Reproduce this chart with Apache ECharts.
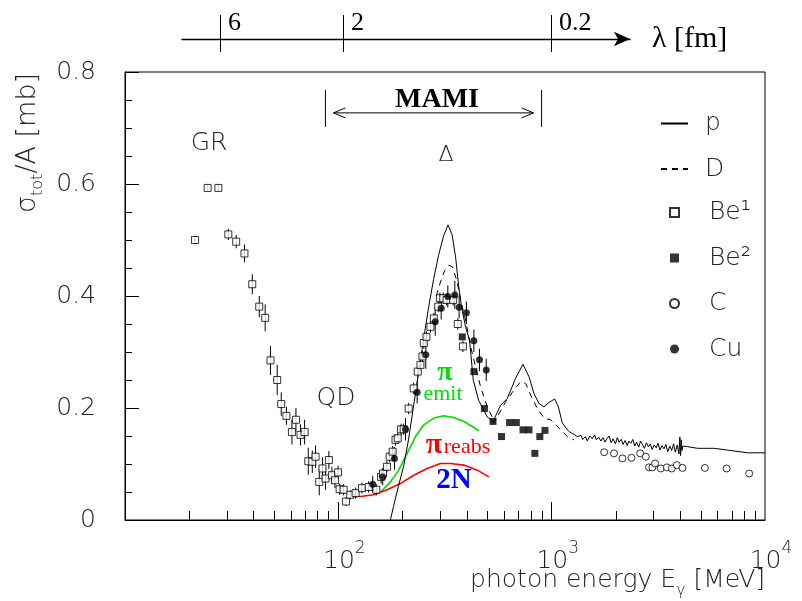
<!DOCTYPE html>
<html><head><meta charset="utf-8">
<script src="https://cdn.jsdelivr.net/npm/echarts@6/dist/echarts.min.js"></script>
<style>html,body{margin:0;padding:0;background:#fff}#c{width:802px;height:601px}</style>
</head><body><div id="c"></div>
<script>
// ---------------- data ----------------
// Be (1): open squares  [E MeV, sigma/A mb, error]
const be1 = [
  [21.3,0.500,0.006],[24.4,0.593,0.005],[27.4,0.593,0.006],[30.5,0.510,0.010],[33.2,0.497,0.012],
  [36.3,0.476,0.016],[39.5,0.421,0.018],[42.6,0.381,0.019],[45.4,0.361,0.024],[48.1,0.285,0.026],
  [51.7,0.250,0.027],[54.0,0.207,0.021],[57.1,0.186,0.016],[60.6,0.157,0.022],[63.3,0.179,0.021],
  [66.5,0.152,0.019],[69.5,0.157,0.022],[72.3,0.105,0.024],[75.5,0.104,0.020],[78.2,0.113,0.020],
  [81.4,0.068,0.024],[84.3,0.092,0.020],[87.1,0.074,0.020],[90.3,0.107,0.016],[93.3,0.080,0.015],
  [96.4,0.071,0.014],[99.7,0.085,0.012],[101.4,0.055,0.010],[105.9,0.054,0.010],[108.7,0.033,0.008],
  [113.8,0.045,0.008],[120.5,0.048,0.010],[129,0.057,0.010],[138.7,0.059,0.010],[150.7,0.054,0.010],
  [158.6,0.077,0.012],[161.9,0.083,0.010],[169,0.095,0.010],[174,0.113,0.010],[179.7,0.122,0.010],
  [185.3,0.143,0.010],[189.8,0.146,0.010],[196.8,0.162,0.010],[202.4,0.162,0.010],[213.6,0.199,0.010],
  [225.5,0.235,0.010],[235.6,0.265,0.010],[242.6,0.277,0.010],[247.9,0.292,0.010],[251.6,0.316,0.010],
  [258.8,0.327,0.010],[270.3,0.345,0.010],[280.4,0.360,0.010],[294,0.381,0.010],[299.3,0.396,0.010],
  [310.4,0.396,0.010],[321.6,0.393,0.010],[345.5,0.393,0.010],[362.9,0.350,0.010],[383.6,0.310,0.010]
];
// Be (2): filled squares [E, sigma]
const be2 = [
  [381,0.327],[432,0.265],[484,0.199],[531,0.176],[582,0.149],[635,0.174],
  [683,0.174],[734,0.161],[783,0.161],[834,0.119],[880,0.149],[930,0.160]
];
// C: open circles [E, sigma]
const carbon = [
  [1762,0.121],[1961,0.119],[2146,0.110],[2366,0.111],[2600,0.119],[2763,0.113],[2860,0.094],
  [2965,0.094],[3053,0.101],[3248,0.092],[3467,0.094],[3657,0.092],[3862,0.098],[4105,0.093],
  [5225,0.093],[6607,0.092],[8433,0.083]
];
// Cu: filled circles [E, sigma, error]
const copper = [
  [144.9,0.064,0.015],[161.4,0.077,0.015],[183.3,0.110,0.020],[206.5,0.162,0.020],[234.2,0.228,0.020],
  [257,0.295,0.025],[284.6,0.354,0.025],[303.5,0.378,0.020],[326,0.399,0.020],[351.6,0.402,0.025],
  [368.4,0.380,0.020],[398.6,0.370,0.020],[431.8,0.320,0.020],[458.8,0.286,0.020],[493.5,0.268,0.020]
];
// proton (solid line)
const proton = [
  [175.4,0.000],[181.3,0.024],[191.3,0.060],[202.0,0.095],[213.2,0.143],[225.0,0.202],[237.5,0.262],
  [250.6,0.321],[264.5,0.378],[279.3,0.429],[294.8,0.472],[311.2,0.507],[326.7,0.527],[341.2,0.510],
  [354.4,0.470],[366.0,0.420],[378.1,0.380],[394.8,0.345],[412.1,0.321],[429.0,0.250],[454.3,0.214],
  [498.9,0.184],[531.3,0.176],[576.4,0.205],[619.4,0.217],[677.6,0.253],[733.3,0.278],[782.4,0.256],
  [826.0,0.226],[871.9,0.208],[920.1,0.202],[971.2,0.210],[1033,0.216],[1075,0.202],[1122,0.173],
  [1206,0.158],[1320,0.149],
  [1330,0.146],[1370,0.151],[1400,0.144],[1440,0.149],[1470,0.141],[1510,0.150],[1550,0.145],
  [1590,0.152],[1620,0.143],[1660,0.148],[1700,0.141],[1740,0.147],[1780,0.139],[1820,0.146],
  [1860,0.150],[1900,0.138],[1940,0.145],[1990,0.136],[2030,0.147],[2070,0.139],[2120,0.144],
  [2160,0.135],[2210,0.142],[2260,0.133],[2300,0.141],[2350,0.137],[2400,0.144],[2450,0.132],
  [2500,0.139],[2560,0.130],[2610,0.141],[2670,0.134],[2720,0.128],[2780,0.138],[2840,0.131],
  [2900,0.136],[2960,0.126],[3020,0.134],[3090,0.129],[3150,0.137],[3220,0.125],[3290,0.133],
  [3360,0.127],[3430,0.135],[3500,0.122],[3580,0.132],[3650,0.124],[3730,0.136],[3800,0.121],
  [3880,0.134],[3950,0.118],[3990,0.148],[4020,0.115],[4050,0.143],[4080,0.124],[4120,0.132],
  [4335,0.131],[4831,0.128],[5780,0.128],[6918,0.124],[8293,0.120],[10000,0.120]
];
// deuteron (dashed line)
const deuteron = [
  [287.7,0.400],[301.2,0.425],[314.6,0.445],[329.5,0.455],[342.9,0.452],[360.8,0.425],[374.0,0.393],
  [394.8,0.357],[416.7,0.310],[439.8,0.274],[464.2,0.238],[498.9,0.202],[526.5,0.184],[536.0,0.173],
  [608.2,0.211],[665.3,0.232],[715.1,0.247],[755.0,0.244],[797.0,0.223],[856.8,0.199],[920.1,0.182],
  [989.2,0.179],[1063,0.167],[1185,0.149],[1273,0.143]
];
// model components
const piEmit = [
  [158.7,0.051],[175.4,0.068],[191.9,0.089],[210.1,0.119],[229.9,0.149],[251.5,0.170],
  [280.2,0.182],[312.2,0.186],[347.8,0.183],[387.6,0.176],[424.3,0.167],[455.8,0.159]
];
const piReabs2N = [
  [116.0,0.042],[126.9,0.042],[146.4,0.045],[169.3,0.054],[195.5,0.065],[225.7,0.080],
  [260.9,0.092],[301.2,0.101],[335.7,0.101],[387.6,0.098],[448.0,0.089],[507.7,0.077]
];
// axis ticks
const xMajorTicks = [100, 1000];
const xLabelTicks = [100, 1000, 10000];
const xMinorTicks = [20,30,40,50,60,70,80,90,200,300,400,500,600,700,800,900,2000,3000,4000,5000,6000,7000,8000,9000];
const lambdaTickE = [27.9, 105.6, 1000];
const lambdaTickLabels = ['6', '2', '0.2'];
// MAMI energy range bracket
const mamiRange = [87, 897];
const mamiBarY = [0.702, 0.768];
const mamiArrowY = 0.727;

// ---------------- chart ----------------
const SANS = '"DejaVu Sans", "Liberation Sans", sans-serif';
const SERIF = '"Liberation Serif", "DejaVu Serif", serif';
const TXT = '#222';
const FW = 200;

function errorBar(params, api) {
  const x = api.value(0), y = api.value(1), e = api.value(2);
  const a = api.coord([x, y + e]), b = api.coord([x, y - e]);
  return {type: 'line', shape: {x1: a[0], y1: a[1], x2: b[0], y2: b[1]},
          style: {stroke: '#000', lineWidth: 1}};
}
function mamiRender(params, api) {
  const l = api.coord([mamiRange[0], mamiBarY[0]]);
  const lt = api.coord([mamiRange[0], mamiBarY[1]]);
  const r = api.coord([mamiRange[1], mamiBarY[0]]);
  const rt = api.coord([mamiRange[1], mamiBarY[1]]);
  const ay = api.coord([mamiRange[0], mamiArrowY])[1];
  const x1 = l[0] + 8, x2 = r[0] - 8;
  const st = {stroke: '#000', lineWidth: 1, fill: null};
  return {type: 'group', children: [
    {type: 'line', shape: {x1: l[0], y1: l[1], x2: lt[0], y2: lt[1]}, style: st},
    {type: 'line', shape: {x1: r[0], y1: r[1], x2: rt[0], y2: rt[1]}, style: st},
    {type: 'line', shape: {x1: x1, y1: ay, x2: x2, y2: ay}, style: st},
    {type: 'polyline', shape: {points: [[x1 + 12, ay - 5], [x1, ay], [x1 + 12, ay + 5]]}, style: st},
    {type: 'polyline', shape: {points: [[x2 - 12, ay - 5], [x2, ay], [x2 - 12, ay + 5]]}, style: st}
  ]};
}
function supLabel(v) {
  return '{b|10}{s|' + Math.round(Math.log10(v)) + '}';
}
function lambdaLabel(v) {
  for (let i = 0; i < lambdaTickE.length; i++) {
    if (Math.abs(Math.log10(v) - Math.log10(lambdaTickE[i])) < 0.01) return lambdaTickLabels[i];
  }
  return '';
}

const chart = echarts.init(document.getElementById('c'));
chart.setOption({
  animation: false,
  backgroundColor: '#fff',
  grid: [
    {left: 125, right: 37, top: 72, bottom: 81, show: true, borderColor: '#000', borderWidth: 1,
     containLabel: false, outerBoundsMode: 'none'},
    {left: 182, right: 172, top: 15, height: 24, containLabel: false, outerBoundsMode: 'none'}
  ],
  xAxis: [
    {gridIndex: 0, type: 'log', logBase: 10, min: 10, max: 10000, position: 'bottom',
     axisLine: {show: true, lineStyle: {color: '#000', width: 1}},
     axisTick: {show: true, inside: true, length: 18, customValues: xMajorTicks, lineStyle: {color: '#000'}},
     axisLabel: {customValues: xLabelTicks, formatter: supLabel, margin: 29, padding: [0, 0, 0, 12],
       rich: {
         b: {fontFamily: SANS, fontSize: 25, fontWeight: FW, color: TXT, verticalAlign: 'bottom', lineHeight: 25},
         s: {fontFamily: SANS, fontSize: 17, fontWeight: FW, color: TXT, verticalAlign: 'bottom', lineHeight: 17, padding: [0, 0, 17, 0]}
       }},
     splitLine: {show: false}, minorTick: {show: false}
    },
    {gridIndex: 0, type: 'log', logBase: 10, min: 10, max: 10000, position: 'bottom',
     axisLine: {show: false},
     axisTick: {show: true, inside: true, length: 9, customValues: xMinorTicks, lineStyle: {color: '#000'}},
     axisLabel: {show: false}, splitLine: {show: false}
    },
    {gridIndex: 1, type: 'log', logBase: 10, min: 18.52, max: 2349, position: 'bottom',
     axisLine: {show: true, lineStyle: {color: '#000', width: 1.3}, symbol: ['none', 'arrow'], symbolSize: [11, 16]},
     axisTick: {show: true, inside: false, length: 13, customValues: lambdaTickE, lineStyle: {color: '#000'}},
     axisLabel: {customValues: lambdaTickE, inside: true, formatter: lambdaLabel, align: 'left',
       padding: [0, 0, 0, 8], margin: 3, fontFamily: SERIF, fontSize: 26, color: '#000'},
     splitLine: {show: false},
     name: 'λ [fm]', nameLocation: 'end', nameGap: 22,
     nameTextStyle: {fontFamily: SERIF, fontSize: 30, color: '#000', verticalAlign: 'middle'}
    }
  ],
  yAxis: [
    {gridIndex: 0, type: 'value', min: 0, max: 0.8, interval: 0.2,
     axisLine: {show: true, lineStyle: {color: '#000'}},
     axisTick: {show: true, inside: true, length: 14, lineStyle: {color: '#000'}},
     minorTick: {show: true, splitNumber: 4, length: 7, lineStyle: {color: '#000'}},
     axisLabel: {margin: 29, fontFamily: SANS, fontSize: 25, fontWeight: FW, color: TXT},
     splitLine: {show: false}
    },
    {gridIndex: 1, type: 'value', min: 0, max: 1, show: false}
  ],
  legend: [
    {data: [{name: 'p', itemStyle: {opacity: 0}}, {name: 'D', itemStyle: {opacity: 0}}],
     orient: 'vertical', left: 655, top: 106, itemWidth: 27, itemHeight: 12, itemGap: 20.5,
     selectedMode: false,
     textStyle: {fontFamily: SANS, fontSize: 25, fontWeight: FW, color: TXT, lineHeight: 24, padding: [0, 0, 0, 12]}},
    {data: ['Be¹', 'Be²', 'C', 'Cu'], orient: 'vertical', left: 664, top: 195, itemWidth: 9, itemHeight: 9, itemGap: 20.5,
     selectedMode: false,
     textStyle: {fontFamily: SANS, fontSize: 25, fontWeight: FW, color: TXT, lineHeight: 24, padding: [0, 0, 0, 25]}}
  ],
  series: [
    {name: 'p', type: 'line', xAxisIndex: 0, yAxisIndex: 0, data: proton, symbol: 'none', showSymbol: false,
     lineStyle: {color: '#000', width: 1}, itemStyle: {color: '#000'}, z: 3},
    {name: 'D', type: 'line', xAxisIndex: 0, yAxisIndex: 0, data: deuteron, symbol: 'none', showSymbol: false,
     lineStyle: {color: '#000', width: 1, type: [6, 5]}, itemStyle: {color: '#000'}, z: 3},
    {name: 'πemit', type: 'line', data: piEmit, symbol: 'none', lineStyle: {color: '#00dd00', width: 1.6}, z: 2},
    {name: 'πreabs2N', type: 'line', data: piReabs2N, symbol: 'none', lineStyle: {color: '#ff0000', width: 1.6}, z: 2},
    {name: 'errBe1', type: 'custom', data: be1, renderItem: errorBar, encode: {x: 0, y: 1}, z: 4, silent: true},
    {name: 'errCu', type: 'custom', data: copper, renderItem: errorBar, encode: {x: 0, y: 1}, z: 4, silent: true},
    {name: 'Be¹', type: 'scatter', data: be1, symbol: 'rect', symbolSize: 7,
     itemStyle: {color: '#fff', borderColor: '#000', borderWidth: 1}, z: 5},
    {name: 'Be²', type: 'scatter', data: be2, symbol: 'rect', symbolSize: 7,
     itemStyle: {color: '#000', borderColor: '#000', borderWidth: 0}, z: 5},
    {name: 'C', type: 'scatter', data: carbon, symbol: 'circle', symbolSize: 7,
     itemStyle: {color: '#fff', borderColor: '#000', borderWidth: 1}, z: 5},
    {name: 'Cu', type: 'scatter', data: copper, symbol: 'circle', symbolSize: 7,
     itemStyle: {color: '#000', borderColor: '#000', borderWidth: 0}, z: 5},
    {name: 'MAMI', type: 'custom', data: [[mamiRange[0], mamiArrowY]], renderItem: mamiRender,
     encode: {x: 0, y: 1}, clip: false, silent: true, z: 6},
    {name: 'lambdaTicks', type: 'line', xAxisIndex: 2, yAxisIndex: 1, data: [],
     markLine: {silent: true, symbol: ['none', 'none'], label: {show: false}, animation: false,
       lineStyle: {color: '#000', width: 1, type: 'solid'},
       data: lambdaTickE.map(e => ({xAxis: e}))}}
  ],
  graphic: [
    {type: 'text', x: 30, y: 143, rotation: Math.PI / 2,
     style: {text: '{b|σ}{s|tot}{b|/A [mb]}', align: 'center', verticalAlign: 'middle',
       rich: {
         b: {fontFamily: SANS, fontSize: 27, fontWeight: FW, fill: TXT, verticalAlign: 'bottom', padding: [0, 0, 5, 0]},
         s: {fontFamily: SANS, fontSize: 16, fontWeight: FW, fill: TXT, verticalAlign: 'bottom'}
       }}},
    {type: 'text', x: 765, y: 583,
     style: {text: '{b|photon energy E}{s|γ}{b| [MeV]}', align: 'right', verticalAlign: 'middle',
       rich: {
         b: {fontFamily: SANS, fontSize: 25, fontWeight: FW, fill: TXT, verticalAlign: 'bottom', padding: [0, 0, 6, 0]},
         s: {fontFamily: SANS, fontSize: 16, fontWeight: FW, fill: TXT, verticalAlign: 'bottom'}
       }}},
    {type: 'text', x: 209, y: 143, style: {text: 'GR', align: 'center', verticalAlign: 'middle', font: FW + ' 25px ' + SANS, fill: TXT}},
    {type: 'text', x: 336, y: 398, style: {text: 'QD', align: 'center', verticalAlign: 'middle', font: FW + ' 25px ' + SANS, fill: TXT}},
    {type: 'text', x: 446, y: 155, style: {text: 'Δ', align: 'center', verticalAlign: 'middle', font: FW + ' 22px ' + SANS, fill: TXT}},
    {type: 'text', x: 437, y: 100, style: {text: 'MAMI', align: 'center', verticalAlign: 'middle', font: 'bold 28px ' + SERIF, fill: '#000'}},
    {type: 'text', x: 445, y: 373, style: {text: 'π', align: 'center', verticalAlign: 'middle', font: 'bold 28px ' + SERIF, fill: '#00dd00'}},
    {type: 'text', x: 443, y: 394, style: {text: 'emit', align: 'center', verticalAlign: 'middle', font: '22px ' + SERIF, fill: '#00dd00'}},
    {type: 'text', x: 434, y: 445, style: {text: 'π', align: 'center', verticalAlign: 'middle', font: 'bold 30px ' + SERIF, fill: '#ff0000'}},
    {type: 'text', x: 467, y: 447, style: {text: 'reabs', align: 'center', verticalAlign: 'middle', font: '22px ' + SERIF, fill: '#ff0000'}},
    {type: 'text', x: 454, y: 481, style: {text: '2N', align: 'center', verticalAlign: 'middle', font: 'bold 29px ' + SERIF, fill: '#0000ff'}}
  ]
});
</script>
</body></html>
